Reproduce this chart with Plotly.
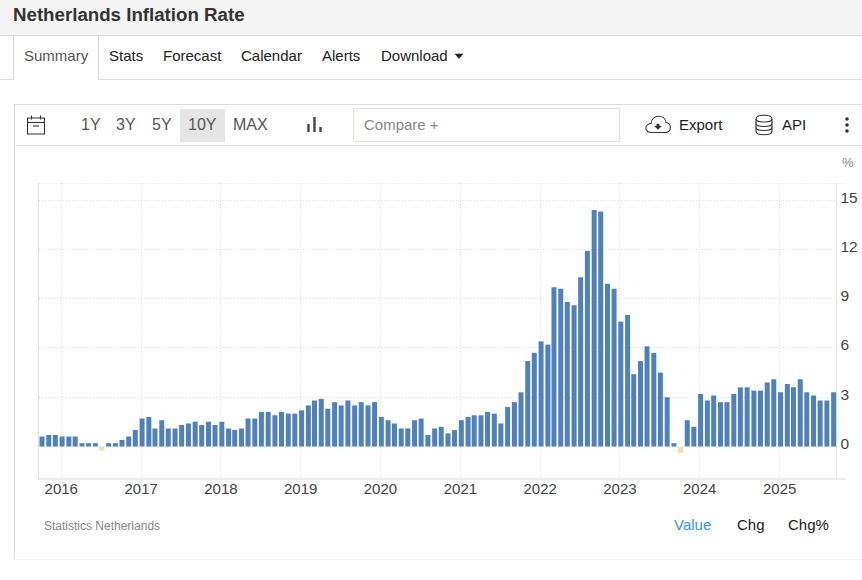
import pandas as pd
import plotly.graph_objects as go

W, H = 862, 580

# monthly inflation rate, Oct 2015 - Sep 2025
values = [
    0.6, 0.7, 0.7,
    0.6, 0.6, 0.6, 0.2, 0.2, 0.2, -0.25, 0.2, 0.2, 0.4, 0.6, 1.0,
    1.7, 1.8, 1.1, 1.6, 1.1, 1.1, 1.3, 1.4, 1.5, 1.3, 1.5, 1.3,
    1.5, 1.1, 1.0, 1.1, 1.7, 1.7, 2.1, 2.1, 1.9, 2.1, 2.0, 2.0,
    2.2, 2.5, 2.8, 2.9, 2.3, 2.7, 2.5, 2.8, 2.5, 2.7, 2.5, 2.7,
    1.8, 1.6, 1.4, 1.1, 1.1, 1.6, 1.7, 0.7, 1.1, 1.2, 0.8, 1.0,
    1.6, 1.8, 1.9, 1.9, 2.1, 2.0, 1.4, 2.4, 2.7, 3.3, 5.2, 5.7,
    6.4, 6.2, 9.7, 9.6, 8.8, 8.6, 10.3, 11.9, 14.4, 14.3, 9.9, 9.6,
    7.6, 8.0, 4.4, 5.2, 6.1, 5.7, 4.5, 3.0, 0.2, -0.4, 1.6, 1.2,
    3.2, 2.8, 3.1, 2.7, 2.7, 3.2, 3.6, 3.6, 3.4, 3.4, 3.9, 4.1,
    3.3, 3.8, 3.6, 4.1, 3.3, 3.1, 2.8, 2.8, 3.3,
]
months = pd.date_range("2015-10-01", periods=len(values), freq="MS") + pd.Timedelta(days=4)
year_ticks = ["2016", "2017", "2018", "2019", "2020", "2021", "2022", "2023", "2024", "2025"]
y_ticks = [0, 3, 6, 9, 12, 15]

POS = "#4f81bd"
NEG = "#f5deb3"
GRID = "#dedede"
BORDER = "#dcdcdc"
FONT = "Liberation Sans, Arial, sans-serif"
DOTS = "1px,2px"


def px(x):
    return x / W


def py(y):
    return 1 - y / H


def rect(x0, y0, x1, y1, fill="rgba(0,0,0,0)", line=None, width=1):
    return dict(type="rect", xref="paper", yref="paper", x0=px(x0), x1=px(x1), y0=py(y0), y1=py(y1),
                fillcolor=fill, line=dict(color=line, width=width if line else 0), layer="below")


def seg(x0, y0, x1, y1, color=BORDER, width=1, dash="solid"):
    return dict(type="line", xref="paper", yref="paper", x0=px(x0), x1=px(x1), y0=py(y0), y1=py(y1),
                line=dict(color=color, width=width, dash=dash), layer="below")


def path(cmds, color="#333", width=1.1, fill="rgba(0,0,0,0)"):
    # cmds: ("M", x, y), ("C", x1, y1, x2, y2, x, y) ... in page pixels
    parts = []
    for cmd in cmds:
        nums = cmd[1:]
        coords = [f"{px(nums[i]):.5f} {py(nums[i + 1]):.5f}" for i in range(0, len(nums), 2)]
        parts.append(cmd[0] + " " + " ".join(coords))
    return dict(type="path", xref="paper", yref="paper", path=" ".join(parts), fillcolor=fill,
                line=dict(color=color, width=width), layer="above")


def label(x, y, text, size=15, color="#222", anchor="left", bold=False):
    if bold:
        text = f"<b>{text}</b>"
    return dict(xref="paper", yref="paper", x=px(x), y=py(y), text=text, showarrow=False,
                xanchor=anchor, yanchor="middle", font=dict(family=FONT, size=size, color=color),
                borderpad=0, borderwidth=0)


fig = go.Figure()
fig.add_trace(go.Bar(
    x=months,
    y=values,
    width=5 / 79.9 * 365.25 * 86400000,
    marker=dict(color=[POS if v >= 0 else NEG for v in values], line=dict(width=0)),
    showlegend=False,
))

shapes = [
    # header + tabs
    rect(0, 0, 862, 35.5, fill="#f4f4f4"),
    seg(0, 35.5, 862, 35.5, "#d6d6d6"),
    seg(0, 79.5, 862, 79.5),
    rect(13.5, 36, 98.5, 80.5, fill="white"),
    seg(13.5, 36, 13.5, 80),
    seg(98.5, 36, 98.5, 80),
    # panel + toolbar
    seg(14, 104.5, 862, 104.5),
    seg(14, 145.5, 862, 145.5),
    seg(14.5, 104, 14.5, 559),
    seg(14, 559.5, 862, 559.5, "#f0f0f0"),
    rect(180, 109, 225, 142, fill="#e6e6e6"),
    rect(353.5, 108.5, 619.5, 141.5, fill="white", line="#e2e2dc"),
    # chart frame
    seg(38.5, 183, 38.5, 479, "#e0e0e0"),
    seg(836.5, 183, 836.5, 479, "#e6e6e6"),
    seg(38, 479, 846, 479, "#e6e6e6", 1.5),
    seg(38.5, 183.5, 846, 183.5, GRID, 1, DOTS),
    # caret
    path([("M", 455, 54), ("L", 463, 54), ("L", 459, 58.5), ("Z",)], color="#222", width=0.5, fill="#222"),
    # calendar icon
    path([("M", 27.5, 118), ("L", 44.5, 118), ("L", 44.5, 134), ("L", 27.5, 134), ("Z",)]),
    seg(27.5, 122.5, 44.5, 122.5, "#333", 1.1),
    seg(31.5, 115.5, 31.5, 119.5, "#333", 1.1),
    seg(40.5, 115.5, 40.5, 119.5, "#333", 1.1),
    seg(33, 126, 39, 126, "#333", 1.1),
    # bar chart icon
    seg(308.5, 124, 308.5, 132, "#444", 2.4),
    seg(314.5, 117, 314.5, 132, "#444", 2.4),
    seg(320.5, 127, 320.5, 132, "#444", 2.4),
    # cloud icon
    path([("M", 652, 132.5),
          ("C", 644, 132.5, 644, 124, 651, 123.5),
          ("C", 652, 114, 665, 114, 666, 122.5),
          ("C", 672, 123, 672, 132.5, 665, 132.5),
          ("Z",)]),
    path([("M", 654.5, 126), ("L", 656.8, 126), ("L", 656.8, 124), ("L", 659.2, 124), ("L", 659.2, 126),
          ("L", 661.5, 126), ("L", 658, 129.5), ("Z",)], color="#333", width=0.4, fill="#333"),
    # database icon
    path([("M", 756, 119),
          ("C", 756, 114, 772, 114, 772, 119),
          ("L", 772, 131),
          ("C", 772, 136, 756, 136, 756, 131),
          ("Z",)]),
    path([("M", 756, 119), ("C", 756, 123, 772, 123, 772, 119)]),
    path([("M", 756, 123.5), ("C", 756, 127.5, 772, 127.5, 772, 123.5)]),
    path([("M", 756, 127.5), ("C", 756, 131.5, 772, 131.5, 772, 127.5)]),
]
# kebab dots
for dot_y in (119, 125, 131):
    shapes.append(dict(type="circle", xref="paper", yref="paper", x0=px(845.2), x1=px(848.8),
                       y0=py(dot_y - 1.8), y1=py(dot_y + 1.8), fillcolor="#333", line=dict(width=0)))

annotations = [
    label(13, 14, "Netherlands Inflation Rate", size=18.7, color="#333", bold=True),
    label(23.5, 56, "Summary", color="#555"),
    label(109, 56, "Stats"),
    label(163, 56, "Forecast"),
    label(241, 56, "Calendar"),
    label(322, 56, "Alerts"),
    label(380.5, 56, "Download"),
    label(90.5, 125, "1Y", size=16, color="#555", anchor="center"),
    label(126, 125, "3Y", size=16, color="#555", anchor="center"),
    label(162, 125, "5Y", size=16, color="#555", anchor="center"),
    label(202.5, 125, "10Y", size=16, color="#555", anchor="center"),
    label(250.5, 125, "MAX", size=16, color="#555", anchor="center"),
    label(364, 124.5, "Compare +", color="#888"),
    label(679, 124.5, "Export"),
    label(782, 124.5, "API"),
    label(847.5, 163, "%", size=13, color="#888", anchor="center"),
    label(43.5, 526, "Statistics Netherlands", size=12, color="#888"),
    label(692.5, 524, "Value", color="#2f96f3", anchor="center"),
    label(750.5, 524, "Chg", color="#222", anchor="center"),
    label(808, 524, "Chg%", color="#222", anchor="center"),
]

fig.update_layout(
    width=W, height=H,
    margin=dict(l=0, r=0, t=0, b=0),
    paper_bgcolor="white", plot_bgcolor="white",
    font=dict(family=FONT),
    shapes=shapes, annotations=annotations,
)
fig.update_xaxes(
    domain=[px(38.5), px(836.5)],
    range=["2015-09-19", "2025-09-18"],
    tickmode="array",
    tickvals=[f"{y}-01-01" for y in year_ticks],
    ticktext=year_ticks,
    showgrid=True, gridcolor=GRID, griddash=DOTS, gridwidth=1,
    zeroline=False, showline=False,
    ticks="", tickfont=dict(size=15, color="#444"),
    ticklabelstandoff=-1,
)
fig.update_yaxes(
    domain=[py(479), py(183)],
    range=[-1.98, 16.04],
    side="right",
    tickmode="array", tickvals=y_ticks,
    showgrid=True, gridcolor=GRID, griddash=DOTS, gridwidth=1,
    zeroline=False, showline=False,
    ticks="", ticklabelshift=-3, ticklabelstandoff=3,
    tickfont=dict(size=15.5, color="#444"),
)

fig.write_html("out.html", config=dict(displayModeBar=False),
               post_script="document.body.style.margin='0';")
